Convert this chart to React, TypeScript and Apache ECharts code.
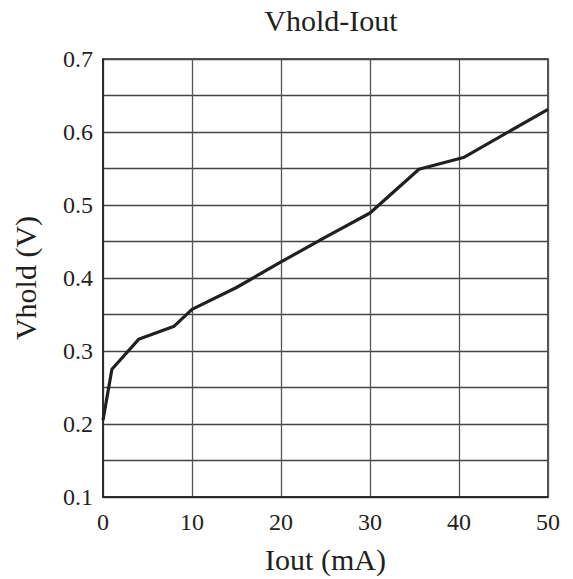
import React, { useEffect, useRef } from "react";
import * as echarts from "echarts";

const iout = [0, 1, 4, 8, 10, 15, 20, 25, 30, 35.5, 40.5, 50];
const vhold = [0.205, 0.275, 0.316, 0.334, 0.357, 0.387, 0.422, 0.456, 0.489, 0.549, 0.565, 0.631];

const FONT = "'Liberation Serif', 'Times New Roman', serif";

export default function App() {
  const ref = useRef<HTMLDivElement>(null);
  useEffect(() => {
    if (!ref.current) return;
    const chart = echarts.init(ref.current, undefined, { renderer: "svg" });
    chart.setOption({
      animation: false,
      backgroundColor: "#ffffff",
      title: {
        text: "Vhold-Iout",
        left: 326,
        textAlign: "center",
        top: 0,
        textStyle: { fontFamily: FONT, fontSize: 30, fontWeight: "normal", color: "#231f20" },
      },
      grid: {
        left: 103,
        top: 59,
        right: 25,
        bottom: 82,
        show: true,
        borderColor: "#231f20",
        borderWidth: 1.5,
        backgroundColor: "transparent",
      },
      xAxis: {
        type: "value",
        min: 0,
        max: 50,
        interval: 10,
        name: "Iout (mA)",
        nameLocation: "middle",
        nameGap: 47,
        nameTextStyle: { fontFamily: FONT, fontSize: 30, color: "#231f20" },
        axisLine: { show: true, lineStyle: { color: "#231f20", width: 1.5 } },
        axisTick: { show: false },
        axisLabel: { fontFamily: FONT, fontSize: 24, color: "#231f20", margin: 13 },
        splitLine: { show: true, lineStyle: { color: "#555555", width: 1.3 } },
      },
      yAxis: {
        type: "value",
        min: 0.1,
        max: 0.7,
        interval: 0.05,
        name: "Vhold (V)",
        nameLocation: "middle",
        nameGap: 63,
        nameTextStyle: { fontFamily: FONT, fontSize: 30, color: "#231f20" },
        axisLine: { show: true, lineStyle: { color: "#231f20", width: 1.5 } },
        axisTick: { show: false },
        axisLabel: {
          fontFamily: FONT,
          fontSize: 24,
          color: "#231f20",
          margin: 10,
          formatter: (v: number) => (Math.round(v * 100) % 10 === 0 ? v.toFixed(1) : ""),
        },
        splitLine: { show: true, lineStyle: { color: "#444444", width: 1.3 } },
      },
      series: [
        {
          type: "line",
          data: iout.map((x, i) => [x, vhold[i]]),
          symbol: "none",
          lineStyle: { color: "#231f20", width: 3.2 },
        },
      ],
    });
    return () => chart.dispose();
  }, []);
  return <div ref={ref} style={{ width: 573, height: 579, position: "absolute", left: 0, top: 0 }} />;
}
